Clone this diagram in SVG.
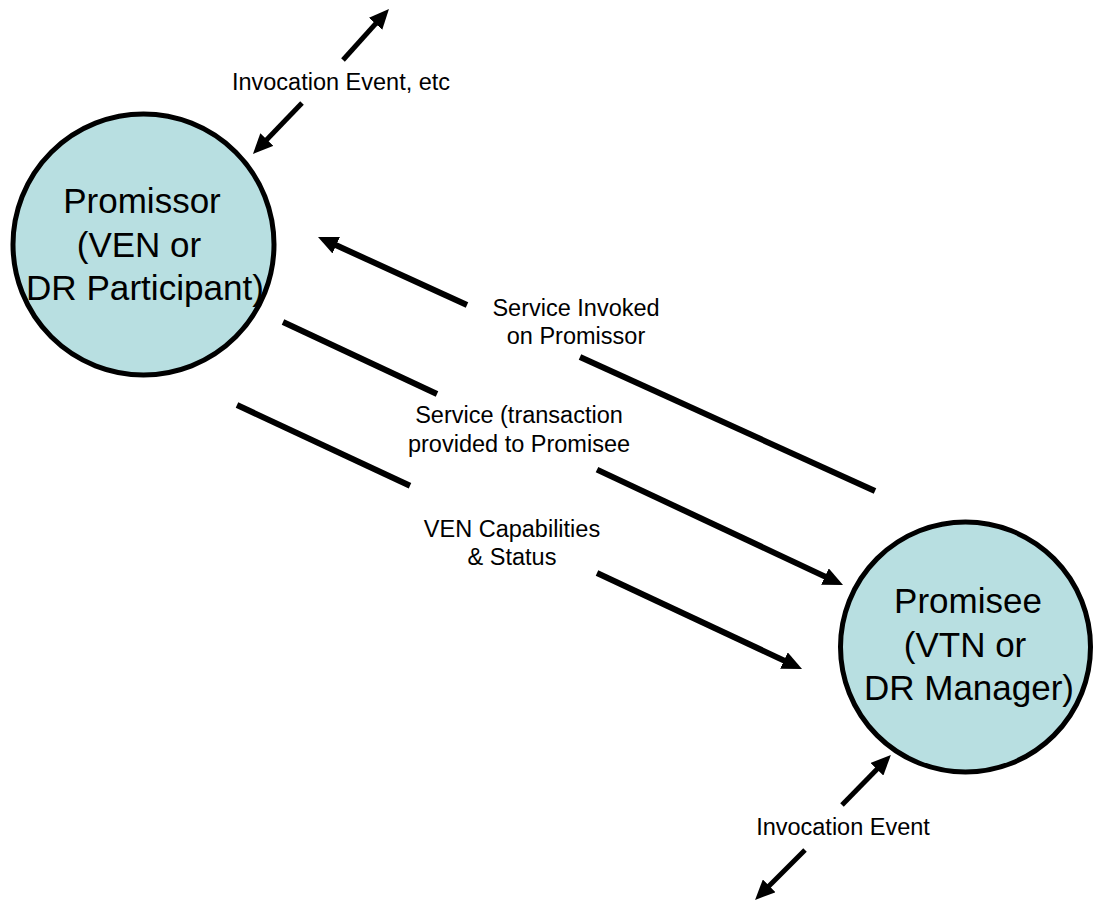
<svg xmlns="http://www.w3.org/2000/svg" width="1095" height="901" viewBox="0 0 1095 901">
<style>
.node{fill:#B8DFE1;stroke:#000;stroke-width:5}
.nt{font-family:"Liberation Sans",Arial,sans-serif;font-size:35px;fill:#000;text-anchor:middle}
.lbl{font-family:"Liberation Sans",Arial,sans-serif;font-size:23.5px;fill:#000;text-anchor:middle}
.ln{stroke:#000;stroke-width:6;fill:none}
.sm{stroke:#000;stroke-width:5;fill:none}
</style>
<defs>
<marker id="ah" markerUnits="userSpaceOnUse" markerWidth="20" markerHeight="18" viewBox="0 0 20 18" refX="12" refY="9" orient="auto">
<path d="M0,0 L20,9 L0,18 z" fill="#000"/>
</marker>
</defs>
<rect width="1095" height="901" fill="#fff"/>
<g id="connectors">
<line class="sm" x1="343" y1="60" x2="383.6" y2="14.9" marker-end="url(#ah)"/>
<line class="sm" x1="302" y1="103" x2="258.5" y2="148.2" marker-end="url(#ah)"/>
<line class="ln" x1="875" y1="491" x2="580" y2="357"/>
<line class="ln" x1="467" y1="305" x2="325.3" y2="240.3" marker-end="url(#ah)"/>
<line class="ln" x1="283" y1="322" x2="437" y2="394"/>
<line class="ln" x1="597" y1="469.6" x2="835.8" y2="581.6" marker-end="url(#ah)"/>
<line class="ln" x1="237" y1="405" x2="410" y2="485.8"/>
<line class="ln" x1="597" y1="573" x2="794.8" y2="665.6" marker-end="url(#ah)"/>
<line class="sm" x1="842" y1="805" x2="885.3" y2="760.7" marker-end="url(#ah)"/>
<line class="sm" x1="805" y1="850" x2="760.7" y2="894.3" marker-end="url(#ah)"/>
<text class="lbl" x="341" y="90">Invocation Event, etc</text>
<text class="lbl" x="576" y="316">Service Invoked</text>
<text class="lbl" x="576" y="344">on Promissor</text>
<text class="lbl" x="519" y="423">Service (transaction</text>
<text class="lbl" x="519" y="452">provided to Promisee</text>
<text class="lbl" x="512" y="537">VEN Capabilities</text>
<text class="lbl" x="512" y="565">&amp; Status</text>
<text class="lbl" x="843" y="835">Invocation Event</text>
</g>
<g id="promissor">
<circle class="node" cx="143.5" cy="244.5" r="130.5"/>
<text class="nt" x="142" y="213">Promissor</text>
<text class="nt" x="139" y="257">(VEN or</text>
<text class="nt" x="145" y="300" textLength="238" lengthAdjust="spacingAndGlyphs">DR Participant)</text>
</g>
<g id="promisee">
<circle class="node" cx="965.5" cy="647" r="125"/>
<text class="nt" x="968" y="613">Promisee</text>
<text class="nt" x="965" y="657">(VTN or</text>
<text class="nt" x="969" y="700">DR Manager)</text>
</g>
</svg>
